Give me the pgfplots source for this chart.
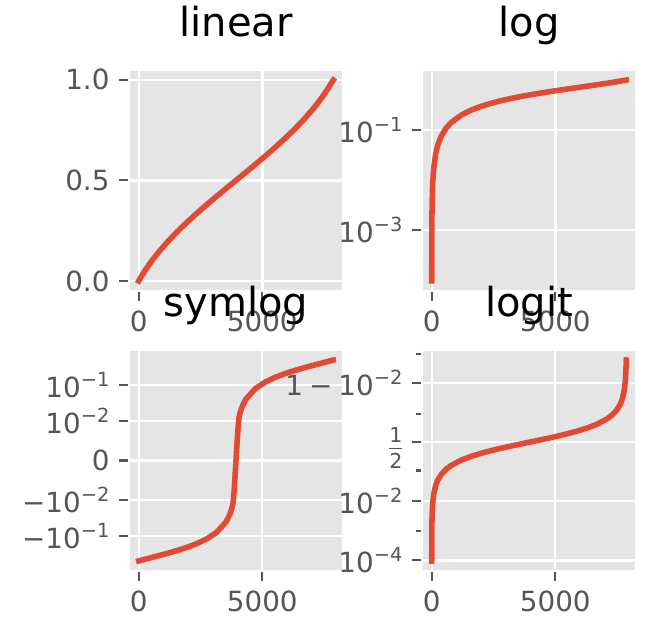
\documentclass[border=0pt]{standalone}
\usepackage{fontspec}
\setmainfont{DejaVu Sans}
\usepackage{pgfplots}
\pgfplotsset{compat=1.18}
\usepackage{pgfplotstable}
\definecolor{bggray}{HTML}{E5E5E5}
\definecolor{tickgray}{HTML}{555555}
\definecolor{linered}{HTML}{E24A33}
\newcommand{\tp}[1]{10\raisebox{3.9pt}{\fontsize{7}{7}\selectfont #1}}
\newcommand{\half}{\vbox{\kern4.2pt\hbox{\fontsize{7.4}{7.4}\selectfont 1}\kern2pt\hrule height 0.4pt\kern1.6pt\hbox{\fontsize{7.4}{7.4}\selectfont 2}}}

\newcommand\symlogtrafo[1]{%
  \begingroup
  \pgfkeys{/pgf/fpu=true,/pgf/fpu/output format=fixed}%
  \pgfmathparse{((#1)>0.01) ? (3.111111+0.4342945*ln(abs(#1)+1e-12)) : (((#1)<-0.01) ? (-3.111111-0.4342945*ln(abs(#1)+1e-12)) : (111.11111*(#1)))}%
  \xdef\trafotmp{\pgfmathresult}%
  \endgroup
  \let\pgfmathresult\trafotmp
}
\newcommand\logittrafo[1]{%
  \begingroup
  \pgfkeys{/pgf/fpu=true,/pgf/fpu/output format=fixed}%
  \pgfmathparse{ln((#1)/(1-(#1)))}%
  \xdef\trafotmp{\pgfmathresult}%
  \endgroup
  \let\pgfmathresult\trafotmp
}

\pgfplotstableread{
x y v
0 0.000095 -0.499905
8 0.00173 -0.49827
16 0.00344 -0.49656
39 0.0085 -0.4915
79 0.0168 -0.4832
157 0.0328 -0.4672
236 0.0482 -0.4518
394 0.0768 -0.4232
590 0.1101 -0.3899
787 0.1406 -0.3594
1181 0.1965 -0.3035
1574 0.2469 -0.2531
1968 0.2935 -0.2065
2361 0.3375 -0.1625
2755 0.3796 -0.1204
3148 0.4204 -0.0796
3542 0.4604 -0.0396
3699 0.4763 -0.0237
3778 0.4842 -0.0158
3817 0.4881 -0.0119
3856 0.4921 -0.0079
3896 0.4960 -0.0040
3935 0.5000 0.0000
3974 0.5040 0.0040
4014 0.5079 0.0079
4053 0.5119 0.0119
4092 0.5158 0.0158
4171 0.5237 0.0237
4329 0.5396 0.0396
4722 0.5796 0.0796
5116 0.6204 0.1204
5509 0.6625 0.1625
5903 0.7065 0.2065
6296 0.7531 0.2531
6690 0.8035 0.3035
7083 0.8594 0.3594
7280 0.8899 0.3899
7477 0.9232 0.4232
7634 0.9518 0.4518
7713 0.9672 0.4672
7791 0.9832 0.4832
7831 0.9915 0.4915
7854 0.9960 0.4960
7870 0.99836 0.49836
}\datatable

\pgfplotsset{
  ggstyle/.style={
    scale only axis, width=77.04pt, height=79.56pt,
    axis background/.style={fill=bggray},
    axis line style={draw=white, line width=1pt},
    grid=major, major grid style={white, line width=0.85pt},
    tick align=outside, tick pos=left,
    major tick length=3.5pt, minor tick length=2pt,
    every tick/.style={tickgray, line width=0.8pt},
    tick label style={font=\fontsize{10}{12}\selectfont, text=tickgray},
    /pgf/number format/assume math mode=true,
    xmin=-393.5, xmax=8263.5,
    xtick={0,5000}, xticklabels={0,5000},
    enlargelimits=false,
    title style={font=\fontsize{14.4}{17}\selectfont, at={(0.5,1)}, anchor=base, inner sep=0pt, yshift=6pt},
  },
  redline/.style={linered, line width=2pt, line cap=rect, line join=round, no markers},
}

\begin{document}
\begin{tikzpicture}
\path[use as bounding box] (0,0) rectangle (236.52pt,230.04pt);
% linear
\begin{axis}[ggstyle, at={(46.44pt,125.28pt)}, anchor=south west,
  title=linear, ymin=-0.0498, ymax=1.0483,
  ytick={0,0.5,1}, yticklabels={0.0,0.5,1.0}]
\addplot[redline] table[x=x,y=y] {\datatable};
\end{axis}
% log
\begin{axis}[ggstyle, at={(151.92pt,125.28pt)}, anchor=south west,
  title=log, ymode=log, ymin=5.98e-5, ymax=1.585,
  ytick={1e-3,1e-1}, yticklabels={\tp{−3},\tp{−1}}, yminorticks=false]
\addplot[redline] table[x=x,y=y] {\datatable};
\end{axis}
% symlog
\begin{axis}[ggstyle, at={(46.44pt,24.48pt)}, anchor=south west,
  title=symlog,
  y coord trafo/.code={\symlogtrafo{#1}},
  ymin=-0.955, ymax=0.953,
  ytick={-0.1,-0.01,0,0.01,0.1},
  yticklabels={−\tp{−1},−\tp{−2},0,\tp{−2},\tp{−1}}]
\addplot[redline] table[x=x,y=v] {\datatable};
\end{axis}
% logit
\begin{axis}[ggstyle, at={(151.92pt,24.48pt)}, anchor=south west,
  title=logit,
  y coord trafo/.code={\logittrafo{#1}},
  ymin=4.36e-5, ymax=0.99925,
  ytick={0.0001,0.01,0.5,0.99},
  minor ytick={0.001,0.1,0.9,0.999},
  yticklabels={\tp{−4},\tp{−2},\half,1\kern2.2pt−\kern2.2pt\tp{−2}}]
\addplot[redline] table[x=x,y=y] {\datatable};
\end{axis}
\end{tikzpicture}
\end{document}
